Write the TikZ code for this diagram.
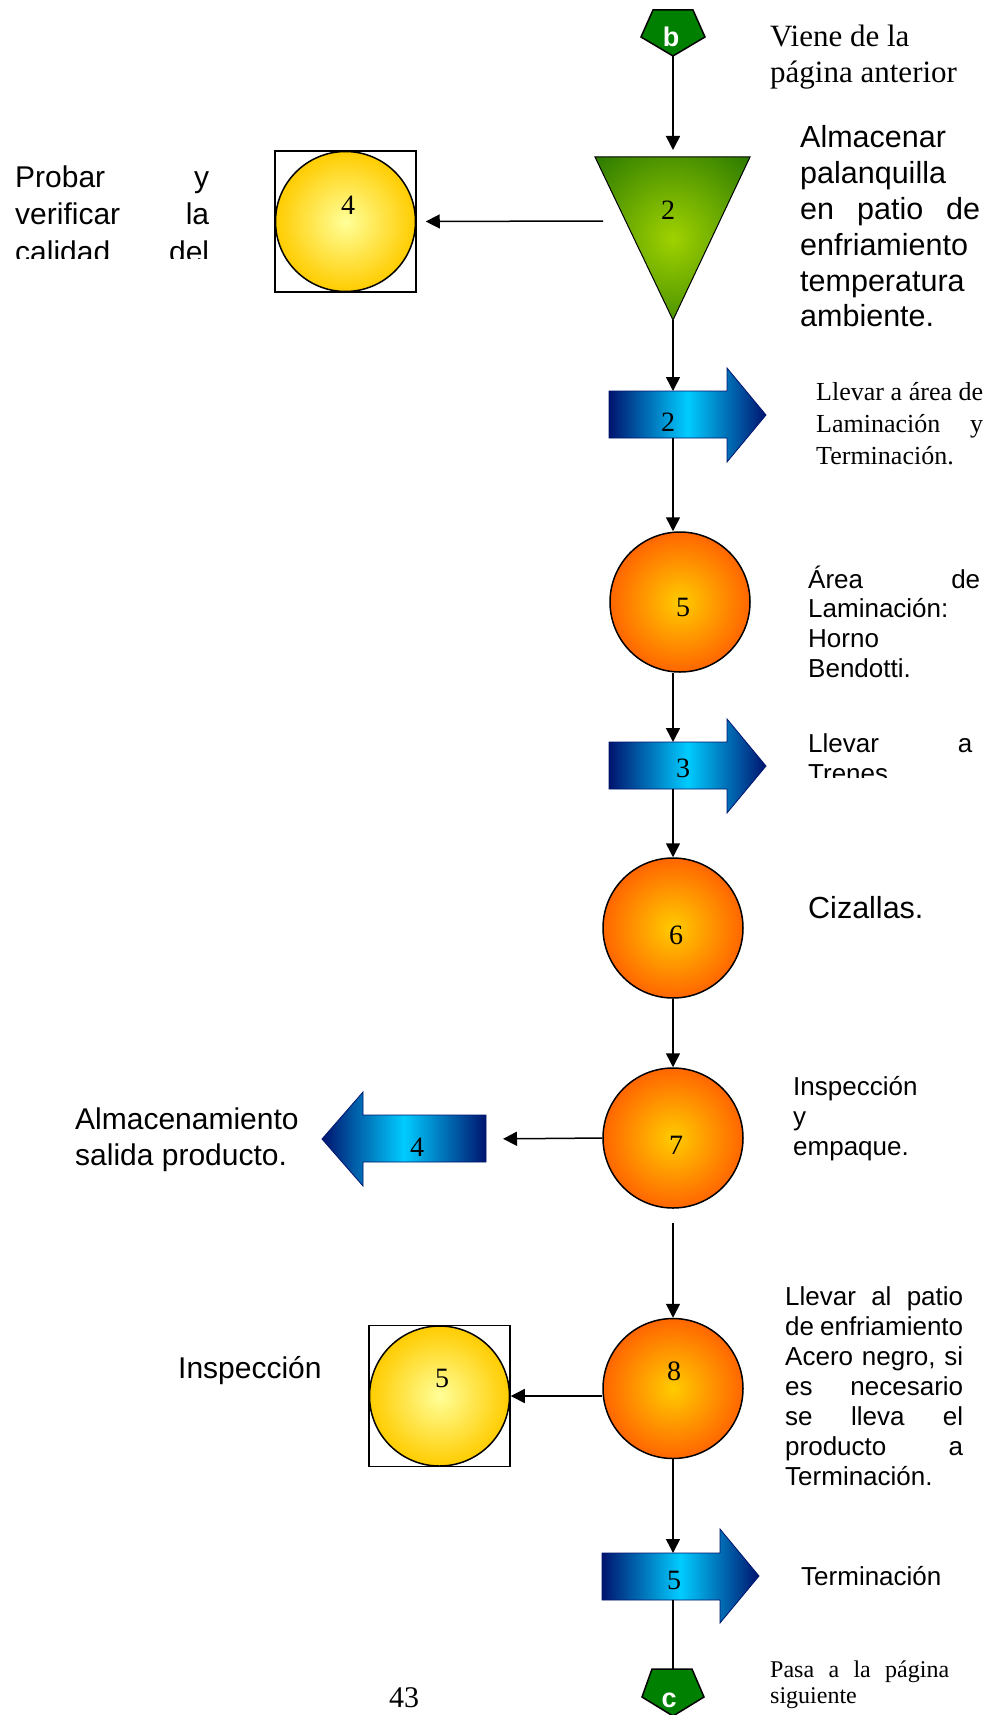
\documentclass[tikz,border=0pt]{standalone}
\usepackage{fontspec}
\setmainfont{Liberation Serif}
\setsansfont{Liberation Sans}
\usetikzlibrary{arrows.meta}

\definecolor{navyblue}{RGB}{0,20,110}
\definecolor{skycyan}{RGB}{0,204,255}
\definecolor{deeporange}{RGB}{255,102,0}
\definecolor{amber}{RGB}{255,204,0}
\definecolor{paleyellow}{RGB}{255,255,153}
\definecolor{leafgreen}{RGB}{160,210,0}
\definecolor{darkleaf}{RGB}{40,120,0}
\definecolor{tagreen}{RGB}{0,128,0}
\pgfdeclareradialshading{leafglow}{\pgfpoint{0bp}{0bp}}{color(0bp)=(leafgreen); color(36bp)=(darkleaf); color(50bp)=(darkleaf)}

\begin{document}
\begin{tikzpicture}[x=1pt,y=-1pt,>={Triangle[length=14pt,width=14pt]},
        flow/.style={->,line width=1.5pt},
        proc/.style={circle,draw,line width=1.5pt,minimum size=140pt,inner sep=0pt,
          inner color=amber,outer color=deeporange},
        insp/.style={circle,draw,line width=1.5pt,minimum size=140pt,inner sep=0pt,
          inner color=paleyellow,outer color=amber},
        frame/.style={rectangle,draw,line width=1.5pt,minimum size=141pt,inner sep=0pt},
        move/.style={draw=navyblue,line width=0.8pt,left color=navyblue,
          right color=navyblue,middle color=skycyan},
        store/.style={draw=black,line width=1pt,shade,shading=leafglow},
        link/.style={draw=black,line width=1.5pt,fill=tagreen},
        num/.style={font=\fontsize{28}{28}\selectfont,inner sep=0pt},
        tag/.style={font=\sffamily\bfseries\fontsize{27}{27}\selectfont,text=white,inner sep=0pt},
        note/.style={anchor=base west,inner sep=0pt}]

        \path[use as bounding box,fill=white] (0,0) rectangle (1002,1715);

        % conectores de pagina
        \path[link] (653,10) -- (693,10) -- (705,37) -- (673,56) -- (641,37) -- cycle;
        \path[link] (652,1669) -- (692,1669) -- (704,1697) -- (673,1716) -- (642,1697) -- cycle;
        \node[tag] (tb) at (671,37) {b};
        \node[tag] (tc) at (669,1700) {c};
        \coordinate (pb) at (673,56);
        \coordinate (pc) at (673,1669);

        % almacenamiento
        \path[store] (595,157) -- (750,157) -- (673,320) -- cycle;
        \node[num] (ntri) at (668,210) {2};
        \coordinate (tritop) at (673,157);
        \coordinate (triapex) at (673,320);
        \coordinate (trileft) at (603,221);

        % transportes
        \path[move] (609,391) -- (727,391) -- (727,368) -- (766,415) -- (727,462) -- (727,438) -- (609,438) -- cycle;
        \path[move] (609,742) -- (727,742) -- (727,719) -- (766,766) -- (727,813) -- (727,789) -- (609,789) -- cycle;
        \path[move] (486,1115) -- (363,1115) -- (363,1092) -- (322,1139) -- (363,1186) -- (363,1162) -- (486,1162) -- cycle;
        \path[move] (602,1553) -- (720,1553) -- (720,1529) -- (759,1576) -- (720,1623) -- (720,1600) -- (602,1600) -- cycle;
        \node[num] (na2) at (668,422) {2};
        \node[num] (na3) at (683,768) {3};
        \node[num] (na4) at (417,1147) {4};
        \node[num] (na5) at (674,1580) {5};
        \coordinate (a2in) at (673,391);
        \coordinate (a2out) at (673,438);
        \coordinate (a3in) at (673,742);
        \coordinate (a3out) at (673,789);
        \coordinate (a4in) at (486,1139);
        \coordinate (a5in) at (673,1553);
        \coordinate (a5out) at (673,1600);

        % operaciones
        \node[proc] (o5) at (680,602) {};
        \node[proc] (o6) at (673,928) {};
        \node[proc] (o7) at (673,1138) {};
        \node[proc] (o8) at (673,1388.5) {};
        \node[num] (no5) at (683,607) {5};
        \node[num] (no6) at (676,935) {6};
        \node[num] (no7) at (676,1145) {7};
        \node[num] (no8) at (674,1371) {8};
        \coordinate (o7gap) at (673,1223);

        % inspecciones
        \node[frame] (sq4) at (345.5,221.5) {};
        \node[insp] (y4) at (345.5,221.5) {};
        \node[frame] (sq5) at (439.5,1396) {};
        \node[insp] (y5) at (439.5,1396) {};
        \node[num] (ny4) at (348,205) {4};
        \node[num] (ny5) at (442,1378) {5};

        \path[flow]
        (pb) edge[shorten >=7pt] (tritop)
        (triapex) edge (a2in)
        (trileft) edge[shorten >=9pt] (sq4.east)
        (a2out) edge (a2out |- o5.north)
        (a3in |- o5.south) edge (a3in)
        (a3out) edge (o6.north)
        (o6.south) edge (o7.north)
        (o7.west) edge[shorten >=17pt] (a4in)
        (o7gap) edge (o8.north)
        (sq5.east -| o8.west) edge (sq5.east)
        (o8.south) edge (a5in)
        (a5out) edge[-] (pc);

        % textos
        \node[note,font=\fontsize{31}{36}\selectfont] (tviene) at (770,47)
          {\parbox[t]{230pt}{Viene de la\\página anterior}};
        \node[note,font=\sffamily\fontsize{30.5}{35.8}\selectfont] (talmacenar) at (800,148)
          {\parbox[t]{180pt}{Almacenar\\palanquilla\\en\hfill patio\hfill de\\enfriamiento\\temperatura\\ambiente.}};
        \begin{scope}
          \clip (0,100) rectangle (260,258);
          \node[note,font=\sffamily\fontsize{30}{37}\selectfont] (tprobar) at (15,188)
            {\parbox[t]{194pt}{Probar\hfill y\\verificar\hfill la\\calidad\hfill del}};
        \end{scope}
        \node[note,font=\fontsize{26}{32}\selectfont] (tlaminacion) at (816,400)
          {\parbox[t]{167pt}{Llevar\hfill a\hfill área\hfill de\\Laminación\hfill y\\Terminación.}};
        \node[note,font=\sffamily\fontsize{26}{29.7}\selectfont] (tarea) at (808,588)
          {\parbox[t]{172pt}{Área\hfill de\\Laminación:\\Horno\\Bendotti.}};
        \begin{scope}
          \clip (780,720) rectangle (1002,777);
          \node[note,font=\sffamily\fontsize{26}{30}\selectfont] (ttrenes) at (808,752)
            {\parbox[t]{164pt}{Llevar\hfill a\\Trenes}};
        \end{scope}
        \node[note,font=\sffamily\fontsize{30.5}{36}\selectfont] (tcizallas) at (808,918) {Cizallas.};
        \node[note,font=\sffamily\fontsize{26}{30}\selectfont] (tempaque) at (793,1095)
          {\parbox[t]{180pt}{Inspección\\y\\empaque.}};
        \node[note,font=\sffamily\fontsize{30}{36}\selectfont] (tsalida) at (75,1129)
          {\parbox[t]{240pt}{Almacenamiento\\salida producto.}};
        \node[note,font=\sffamily\fontsize{30}{36}\selectfont] (tinspeccion) at (178,1378) {Inspección};
        \node[note,font=\sffamily\fontsize{26}{30}\selectfont] (tpatio) at (785,1305)
          {\parbox[t]{178pt}{Llevar\hfill al\hfill patio\\de\hfill enfriamiento\\Acero\hfill negro,\hfill si\\es\hfill necesario\\se\hfill lleva\hfill el\\producto\hfill a\\Terminación.}};
        \node[note,font=\sffamily\fontsize{26}{30}\selectfont] (tterminacion) at (801,1585) {Terminación};
        \node[note,font=\fontsize{24}{26}\selectfont] (tpasa) at (770,1677)
          {\parbox[t]{179pt}{Pasa\hfill a\hfill la\hfill página\\siguiente}};
        \node[note,font=\fontsize{30}{30}\selectfont] (tpagina) at (389,1707) {43};
      \end{tikzpicture}
\end{document}
